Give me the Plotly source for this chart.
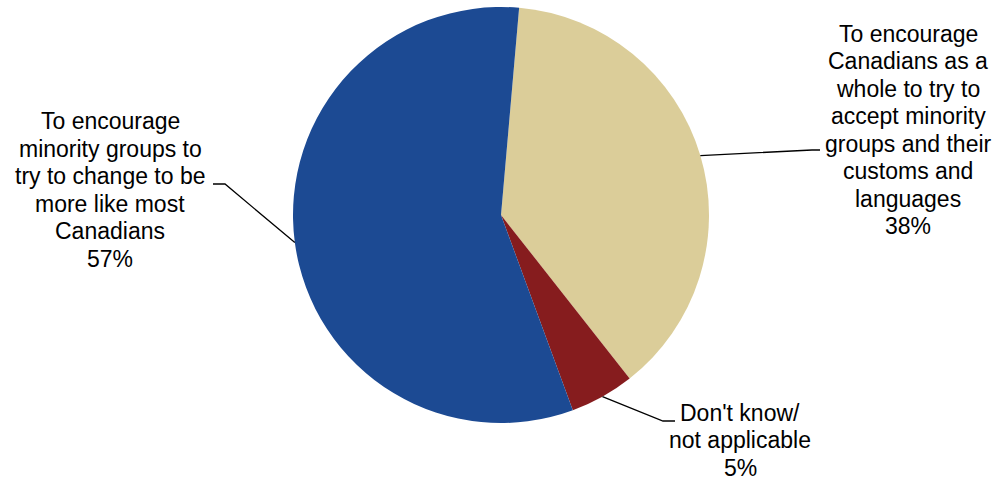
import math
import plotly.graph_objects as go

# Survey answer shares, in clockwise drawing order
label_lines = [
    ["To encourage", "Canadians as a", "whole to try to", "accept minority",
     "groups and their", "customs and", "languages"],
    ["Don't know/", "not applicable"],
    ["To encourage", "minority groups to", "try to change to be",
     "more like most", "Canadians"],
]
values = [38, 5, 57]
colors = ["#DBCD99", "#861C1E", "#1C4A93"]

W, H = 1002, 483
ROTATION = 5  # degrees clockwise from 12 o'clock
CX, CY, R = 501, 215, 208  # pie centre and radius in pixels
LINE_GAP = 27.5  # pixel distance between label lines
FONT = dict(family="Liberation Sans, Arial, sans-serif", size=23, color="black")

# label block centres and leader-line elbows (pixels, from top-left)
label_pos = [(908, 130), (740, 440), (110, 190)]
elbows = [[(812, 150), (820, 150)], [(663, 421), (675, 421)], [(225, 184), (213, 184)]]

fig = go.Figure(
    go.Pie(
        labels=[" ".join(l) for l in label_lines],
        values=values,
        sort=False,
        direction="clockwise",
        rotation=ROTATION,
        marker=dict(colors=colors, line=dict(width=0)),
        textinfo="none",
        hoverinfo="label+percent",
        domain=dict(x=[0, 1], y=[(H - CY - R) / H, (H - CY + R) / H]),
        showlegend=False,
    )
)


def px(x, y):
    return x / W, 1 - y / H


total = sum(values)
start = ROTATION
shapes, annotations = [], []
for lines, val, (lx, ly), elbow in zip(label_lines, values, label_pos, elbows):
    span = 360 * val / total
    mid = math.radians(start + span / 2)
    start += span
    ex = CX + R * math.sin(mid)
    ey = CY - R * math.cos(mid)
    pts = [px(ex, ey)] + [px(x, y) for x, y in elbow]
    path = "M " + " L ".join(f"{x},{y}" for x, y in pts)
    shapes.append(dict(type="path", path=path, xref="paper", yref="paper",
                       line=dict(color="black", width=1.3)))
    rows = lines + [f"{round(100 * val / total)}%"]
    top = ly - LINE_GAP * (len(rows) - 1) / 2
    for i, row in enumerate(rows):
        ax, ay = px(lx, top + i * LINE_GAP)
        annotations.append(dict(text=row, x=ax, y=ay, xref="paper", yref="paper",
                                xanchor="center", yanchor="middle", align="center",
                                showarrow=False, font=FONT))

fig.update_layout(
    width=W, height=H,
    margin=dict(l=0, r=0, t=0, b=0),
    paper_bgcolor="white", plot_bgcolor="white",
    shapes=shapes, annotations=annotations,
)

fig.write_html("out.html")
